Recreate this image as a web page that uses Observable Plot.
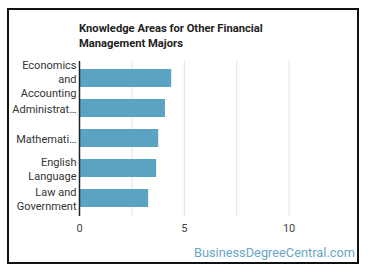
<!DOCTYPE html>
<html>
<head>
<meta charset="utf-8">
<script src="https://cdn.jsdelivr.net/npm/d3@7"></script>
<script src="https://cdn.jsdelivr.net/npm/@observablehq/plot@0.6"></script>
<style>
  html, body { margin: 0; padding: 0; background: #fff; }
  body { width: 370px; height: 278px; position: relative; overflow: hidden; font-family: Roboto, sans-serif; }
  #frame { position: absolute; left: 7px; top: 8px; width: 352px; height: 256px; box-sizing: border-box; border: 2px solid #111; }
  #title { position: absolute; left: 79px; top: 21px; font-size: 11.2px; font-weight: bold; color: #222; line-height: 15px; }
  #chart { position: absolute; left: 0; top: 0; }
  #credit { position: absolute; right: 15px; top: 245px; font-size: 12.8px; color: #6aa6c4; }
</style>
</head>
<body>
<div id="frame"></div>
<div id="chart"></div>
<div id="title">Knowledge Areas for Other Financial<br>Management Majors</div>
<div id="credit">BusinessDegreeCentral.com</div>
<script>
const categories = ["Economics and Accounting", "Administrative", "Mathematics", "English Language", "Law and Government"];
const labels = ["Economics\nand\nAccounting", "Administrat\u2026", "Mathemati\u2026", "English\nLanguage", "Law and\nGovernment"];
const values = [4.4, 4.1, 3.78, 3.68, 3.3];
const gridTicks = [2.5, 5, 7.5, 10];
const axisTicks = [0, 5, 10];

const data = categories.map((c, i) => ({category: c, value: values[i], label: labels[i]}));

const chart = Plot.plot({
  width: 370,
  height: 240,
  marginLeft: 79,
  marginRight: 29,
  marginTop: 61,
  marginBottom: 24,
  style: {fontFamily: "Roboto, sans-serif", background: "transparent"},
  x: {domain: [0, 12.5], axis: null, label: null},
  y: {domain: categories, paddingInner: 0.385, paddingOuter: 0.2, axis: null, label: null},
  marks: [
    Plot.gridX(gridTicks, {stroke: "#e3e3e3", strokeOpacity: 1}),
    Plot.barX(data, {x: "value", y: "category", fill: "#5aa3c2"}),
    Plot.ruleX([0], {stroke: "#222", strokeWidth: 1.5}),
    Plot.text(data, {x: 0, y: "category", text: "label", textAnchor: "end", dx: -3, fontSize: 11, fill: "#333", lineHeight: 1.28}),
    Plot.axisX(axisTicks, {tickSize: 0, tickPadding: 8, fontSize: 11, fill: "#444", tickFormat: d => d, label: null})
  ]
});
document.getElementById("chart").appendChild(chart);
</script>
</body>
</html>
